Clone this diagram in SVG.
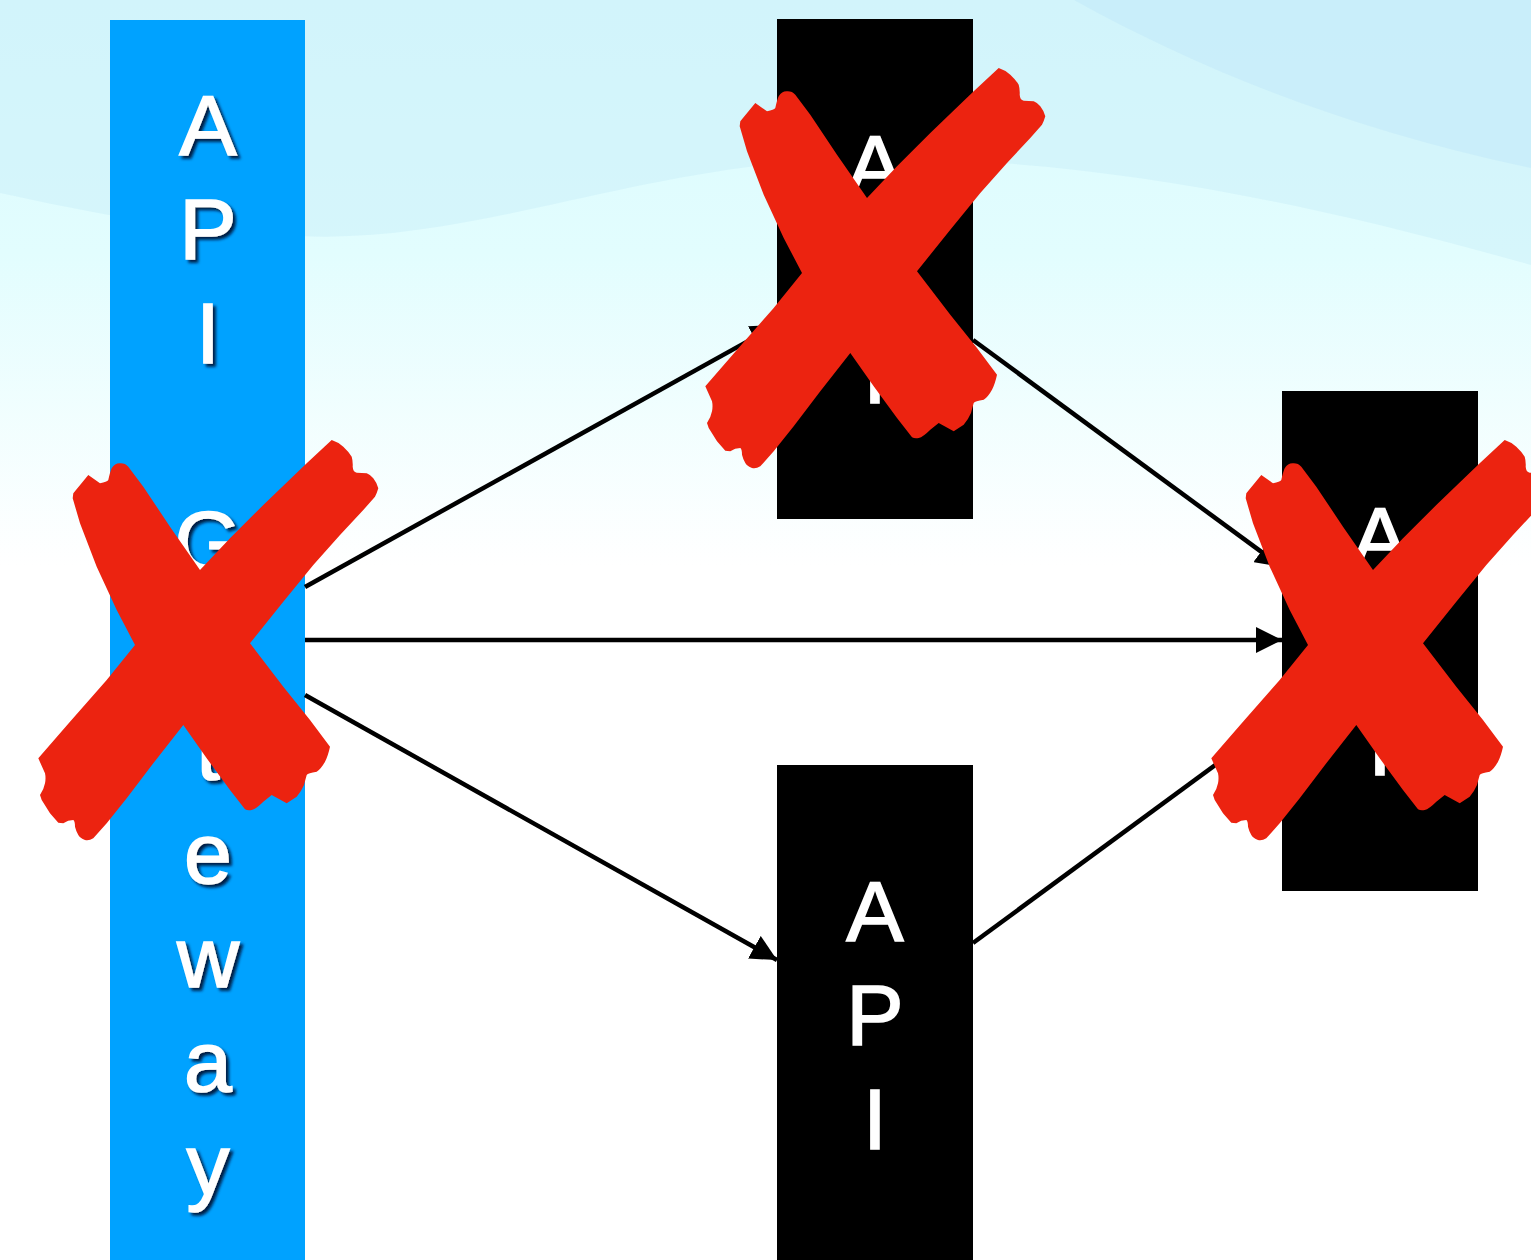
<svg xmlns="http://www.w3.org/2000/svg" xmlns:xlink="http://www.w3.org/1999/xlink" width="1531" height="1260" viewBox="0 0 1531 1260">
<defs>
  <linearGradient id="bg" x1="0" y1="0" x2="0" y2="1260" gradientUnits="userSpaceOnUse">
    <stop offset="0" stop-color="#DAFAFE"/>
    <stop offset="0.2" stop-color="#E2FDFE"/>
    <stop offset="0.45" stop-color="#FFFFFF"/>
    <stop offset="1" stop-color="#FFFFFF"/>
  </linearGradient>
  <filter id="shadow" x="-30%" y="-30%" width="160%" height="160%">
    <feDropShadow dx="3" dy="3" stdDeviation="1.5" flood-color="#001030" flood-opacity="0.9"/>
  </filter>
  <marker id="arrow" markerUnits="userSpaceOnUse" markerWidth="26" markerHeight="26" refX="26" refY="13" orient="auto">
    <path d="M0,0 L26,13 L0,26 Z" fill="#000"/>
  </marker>
  <path id="xmark" d="M73.3,493.3 L88.3,475 L100,483.3 Q107,482 108.3,480 Q110,472 111.7,468.3 Q115,463 120,463.3 Q125,463 128.3,466.7 L143.3,486.7 L170,526.7 L200,570 L230,538.3 L263.3,505 L306.7,463.3 L331.7,440 Q338,442 343.3,446.7 Q349,452 351.7,456.7 Q353,461 352.7,466.7 Q353,472 356.7,472.7 L366.7,473.3 Q371,475 373.3,478.3 Q377,483 378.3,488.3 Q377,493 375,496.7 L363.3,510 L340,535 L313.3,565 L283.3,601.7 L250,643.3 L283.3,686.7 L310,720 L330,746.7 Q328,756 325,761.7 Q321,769 316.7,771.7 Q308,773 306.7,775 Q305,781 304,785 Q301,792 296.7,796.7 L286.7,803.3 L271.7,795 L263.3,801.7 Q256,809 251.7,810 Q248,811 245,809.3 L230,790 L206.7,758.3 L183.3,725 L153.3,763.3 L126.7,798.3 L106.7,823.3 L93.3,838.3 Q89,841 85,840 Q80,838 78.3,835 Q76,831 75,826.7 Q75,821 73.3,820 Q68,820 63.3,823.3 L58.3,822.7 L50,813.3 L41.7,800 L40,795 Q44,789 45,783.3 Q46,778 45,773.3 L38.3,758.3 L70,721.7 L106.7,680 L135,645 L116.7,610 L96.7,566.7 L80,523.3 L72.7,498.3 Z"/>
</defs>
<style>
  .gw { fill: #00A2FF; }
  .svc { fill: #000000; }
  .lbl { font-family: "Liberation Sans", Arial, Helvetica, sans-serif; font-size: 86px; fill: #FFFFFF; stroke: #FFFFFF; stroke-width: 1.6px; text-anchor: middle; }
  .conn { stroke: #000; stroke-width: 4.5; fill: none; marker-end: url(#arrow); }
  .x { fill: #EC2310; }
</style>

<g id="background">
  <rect x="0" y="0" width="1531" height="1260" fill="url(#bg)"/>
  <path d="M0,0 H1531 V265 C1300,200 1100,160 880,158 C650,158 480,245 300,236 C180,232 80,210 0,193 Z" fill="#C8EEF8" opacity="0.45"/>
  <path d="M1074,0 C1200,70 1350,130 1531,168 V0 Z" fill="#BFE6F8" opacity="0.45"/>
</g>

<g id="gateway">
  <rect class="gw" x="110" y="20" width="195" height="1245"/>
  <g filter="url(#shadow)">
    <text class="lbl" x="208" y="155">A</text>
    <text class="lbl" x="208" y="259">P</text>
    <text class="lbl" x="208" y="363">I</text>
    <text class="lbl" x="208" y="571">G</text>
    <text class="lbl" x="208" y="675">a</text>
    <text class="lbl" x="208" y="779">t</text>
    <text class="lbl" x="208" y="883">e</text>
    <text class="lbl" x="208" y="987">w</text>
    <text class="lbl" x="208" y="1091">a</text>
    <text class="lbl" x="208" y="1194">y</text>
  </g>
</g>

<g id="api-top">
  <rect class="svc" x="777" y="19" width="196" height="500"/>
  <text class="lbl" x="875" y="195">A</text>
  <text class="lbl" x="875" y="299">P</text>
  <text class="lbl" x="875" y="403">I</text>
</g>

<g id="api-bottom">
  <rect class="svc" x="777" y="765" width="196" height="500"/>
  <text class="lbl" x="875" y="941">A</text>
  <text class="lbl" x="875" y="1045">P</text>
  <text class="lbl" x="875" y="1149">I</text>
</g>

<g id="api-right">
  <rect class="svc" x="1282" y="391" width="196" height="500"/>
  <text class="lbl" x="1380" y="567">A</text>
  <text class="lbl" x="1380" y="671">P</text>
  <text class="lbl" x="1380" y="775">I</text>
</g>

<g id="connectors">
  <line class="conn" x1="305" y1="587" x2="777" y2="325"/>
  <line class="conn" x1="305" y1="640" x2="1282" y2="640"/>
  <line class="conn" x1="305" y1="695" x2="777" y2="960"/>
  <line class="conn" x1="973" y1="340" x2="1282" y2="567"/>
  <line class="conn" x1="973" y1="943" x2="1282" y2="716"/>
</g>

<g id="cross-marks">
  <use xlink:href="#xmark" class="x"/>
  <use xlink:href="#xmark" class="x" transform="translate(667,-372)"/>
  <use xlink:href="#xmark" class="x" transform="translate(1173,0)"/>
</g>
</svg>
